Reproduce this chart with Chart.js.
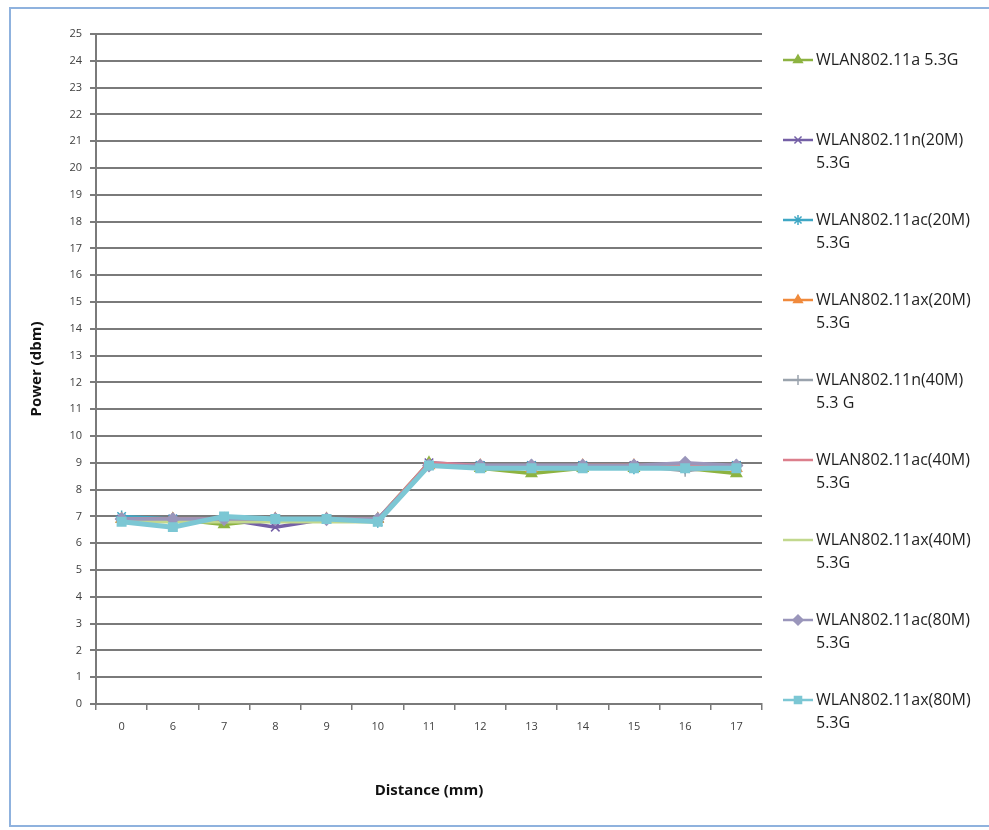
<!DOCTYPE html>
<html>
<head>
<meta charset="utf-8">
<script src="https://cdn.jsdelivr.net/npm/chart.js@4"></script>
<style>
  html, body { margin: 0; padding: 0; background: #fff; }
  #wrap { width: 989px; height: 830px; }
</style>
</head>
<body>
<div id="wrap"><canvas id="powerChart"></canvas></div>
<script>
// distancias (eje x)
const distances = ['0', '6', '7', '8', '9', '10', '11', '12', '13', '14', '15', '16', '17'];

// nombres de las series (cada elemento = lineas del texto de la leyenda)
const seriesNames = [
  ['WLAN802.11a 5.3G'],
  ['WLAN802.11n(20M)', '5.3G'],
  ['WLAN802.11ac(20M)', '5.3G'],
  ['WLAN802.11ax(20M)', '5.3G'],
  ['WLAN802.11n(40M)', '5.3 G'],
  ['WLAN802.11ac(40M)', '5.3G'],
  ['WLAN802.11ax(40M)', '5.3G'],
  ['WLAN802.11ac(80M)', '5.3G'],
  ['WLAN802.11ax(80M)', '5.3G']
];

// potencia (dbm) por serie
const p11a     = [6.9, 6.9, 6.7, 6.9, 6.9, 6.9, 9.0, 8.8, 8.6, 8.8, 8.8, 8.8, 8.6];
const p11n20   = [6.9, 6.9, 6.9, 6.6, 6.9, 6.8, 9.0, 8.9, 8.9, 8.9, 8.9, 8.9, 8.9];
const p11ac20  = [7.0, 6.9, 6.9, 6.9, 6.9, 6.8, 8.9, 8.9, 8.9, 8.9, 8.8, 8.8, 8.9];
const p11ax20  = [6.9, 6.9, 6.9, 6.9, 6.9, 6.9, 8.9, 8.9, 8.8, 8.9, 8.9, 8.9, 8.8];
const p11n40   = [6.9, 6.9, 6.9, 6.9, 6.9, 6.9, 8.9, 8.9, 8.9, 8.9, 8.9, 8.7, 8.9];
const p11ac40  = [6.9, 6.9, 6.9, 6.9, 6.9, 6.9, 9.0, 8.9, 8.9, 8.9, 8.9, 8.9, 8.9];
const p11ax40  = [6.8, 6.8, 6.8, 6.8, 6.8, 6.8, 8.9, 8.8, 8.8, 8.8, 8.8, 8.8, 8.8];
const p11ac80  = [6.9, 6.9, 6.9, 6.9, 6.9, 6.9, 8.9, 8.9, 8.9, 8.9, 8.9, 9.0, 8.9];
const p11ax80  = [6.8, 6.6, 7.0, 6.9, 6.9, 6.8, 8.9, 8.8, 8.8, 8.8, 8.8, 8.8, 8.8];

const seriesData = [p11a, p11n20, p11ac20, p11ax20, p11n40, p11ac40, p11ax40, p11ac80, p11ax80];
const seriesColors = ['#8db341', '#7460a6', '#3fa7c4', '#f08a3c', '#9aa3ad', '#dc7f8c', '#c2d88e', '#9a96bb', '#7cc7d4'];
const seriesMarkers = ['triangle', 'crossRot', 'star', 'triangle', 'cross', 'line', false, 'rectRot', 'rect'];

// marco azul alrededor del grafico
const frame = {
  id: 'frame',
  beforeDraw(chart) {
    const ctx = chart.ctx;
    ctx.save();
    ctx.fillStyle = '#fff';
    ctx.fillRect(0, 0, chart.width, chart.height);
    ctx.strokeStyle = '#8fb2de';
    ctx.lineWidth = 2;
    ctx.strokeRect(10, 8, 990, 818);
    ctx.restore();
  }
};

// leyenda a la derecha, con texto en dos lineas
const sideLegend = {
  id: 'sideLegend',
  afterDraw(chart) {
    const ctx = chart.ctx;
    ctx.save();
    ctx.font = '16px "Open Sans"';
    ctx.textBaseline = 'middle';
    chart.data.datasets.forEach(function (ds, i) {
      const y = 60 + i * 80;
      ctx.strokeStyle = ds.borderColor;
      ctx.fillStyle = ds.borderColor;
      ctx.lineWidth = 2.5;
      ctx.beginPath();
      ctx.moveTo(783, y);
      ctx.lineTo(813, y);
      ctx.stroke();
      if (ds.pointStyle) {
        ctx.lineWidth = 1.5;
        Chart.helpers.drawPoint(ctx, { pointStyle: ds.pointStyle, radius: 5, rotation: 0, borderWidth: 1.5 }, 798, y);
      }
      ctx.fillStyle = '#1f1f1f';
      seriesNames[i].forEach(function (line, j) {
        ctx.fillText(line, 816, y + j * 23);
      });
    });
    ctx.restore();
  }
};

const datasets = seriesData.map(function (vals, i) {
  return {
    label: seriesNames[i].join(' '),
    data: vals,
    borderColor: seriesColors[i],
    backgroundColor: seriesColors[i],
    borderWidth: i === 8 ? 5 : 3.5,
    pointStyle: seriesMarkers[i],
    pointRadius: seriesMarkers[i] ? 6 : 0,
    pointBorderWidth: 1.5,
    tension: 0,
    order: seriesData.length - i
  };
});

const config = {
  type: 'line',
  data: { labels: distances, datasets: datasets },
  options: {
    responsive: true,
    maintainAspectRatio: false,
    animation: false,
    layout: { padding: { left: 0, top: 34, right: 227, bottom: 0 } },
    plugins: {
      legend: { display: false },
      tooltip: { enabled: false }
    },
    scales: {
      x: {
        offset: true,
        grid: { offset: true, drawOnChartArea: false, drawTicks: true, tickLength: 6, color: '#7a7a7a', lineWidth: 1.5 },
        border: { color: '#7a7a7a', width: 2 },
        ticks: { color: '#404040', font: { family: 'Open Sans', size: 11 }, padding: 10, maxRotation: 0 },
        title: { display: true, text: 'Distance (mm)', color: '#111', font: { family: 'Open Sans', size: 15, weight: 'bold' }, padding: { top: 0, bottom: 30 } },
        afterFit: function (scale) { scale.height = 126; }
      },
      y: {
        min: 0,
        max: 25,
        ticks: { stepSize: 1, color: '#404040', font: { family: 'Open Sans', size: 11 }, padding: 8 },
        grid: { color: '#7a7a7a', lineWidth: 2, tickLength: 6 },
        border: { color: '#7a7a7a', width: 2 },
        title: { display: true, text: 'Power (dbm)', color: '#111', font: { family: 'Open Sans', size: 15, weight: 'bold' }, padding: { top: 28, bottom: 0 } },
        afterFit: function (scale) { scale.width = 96; }
      }
    }
  },
  plugins: [frame, sideLegend]
};

var powerChart = new Chart(document.getElementById('powerChart'), config);
</script>
</body>
</html>
